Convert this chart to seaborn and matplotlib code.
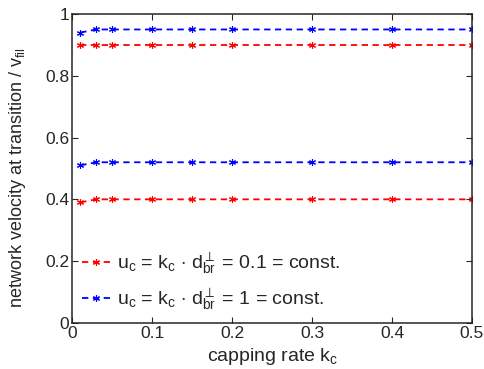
import numpy as np
import pandas as pd
import seaborn as sns
import matplotlib
matplotlib.use("Agg")
import matplotlib.pyplot as plt
from matplotlib.ticker import FormatStrFormatter

# data #######################################################################
kc = [0.01, 0.03, 0.05, 0.1, 0.15, 0.2, 0.3, 0.4, 0.5]
red_low = [0.39, 0.40, 0.40, 0.40, 0.40, 0.40, 0.40, 0.40, 0.40]
red_high = [0.90, 0.90, 0.90, 0.90, 0.90, 0.90, 0.90, 0.90, 0.90]
blue_low = [0.51, 0.52, 0.52, 0.52, 0.52, 0.52, 0.52, 0.52, 0.52]
blue_high = [0.94, 0.95, 0.95, 0.95, 0.95, 0.95, 0.95, 0.95, 0.95]
labels = [r"u$_c$ = k$_c$ $\cdot$ d$_{br}^{\perp}$ = 0.1 = const.",
          r"u$_c$ = k$_c$ $\cdot$ d$_{br}^{\perp}$ = 1 = const."]
colors = ["#ff0000", "#0000ff"]

df = pd.concat([
    pd.DataFrame({"kc": kc, "v": red_low, "series": labels[0], "branch": "low"}),
    pd.DataFrame({"kc": kc, "v": red_high, "series": labels[0], "branch": "high"}),
    pd.DataFrame({"kc": kc, "v": blue_low, "series": labels[1], "branch": "low"}),
    pd.DataFrame({"kc": kc, "v": blue_high, "series": labels[1], "branch": "high"}),
])

sns.set_style("ticks")
plt.rcParams["font.family"] = ["Liberation Sans", "DejaVu Sans"]
plt.rcParams["mathtext.fontset"] = "custom"
plt.rcParams["mathtext.rm"] = "Liberation Sans"
plt.rcParams["mathtext.it"] = "Liberation Sans"
plt.rcParams["mathtext.default"] = "rm"

fig = plt.figure(figsize=(4.85, 3.69), dpi=100)
ax = fig.add_axes([0.149, 0.125, 0.824, 0.837])

asterisk = (6, 2, 0)
dash = (0, (3.5, 2.5))
sns.lineplot(data=df, x="kc", y="v", hue="series", units="branch", estimator=None,
             palette=colors, linewidth=1.3, ax=ax, legend=False)
for line in ax.lines:
    line.set_linestyle(dash)
    line.set_marker(asterisk)
    line.set_markersize(5)
    line.set_markeredgewidth(0.8)
    line.set_markeredgecolor(line.get_color())

ax.set_xlim(0, 0.5)
ax.set_ylim(0, 1)
ax.set_xticks([0, 0.1, 0.2, 0.3, 0.4, 0.5])
ax.set_yticks([0, 0.2, 0.4, 0.6, 0.8, 1])
ax.xaxis.set_major_formatter(FormatStrFormatter("%g"))
ax.yaxis.set_major_formatter(FormatStrFormatter("%g"))
ax.tick_params(direction="in", top=True, right=True, labelsize=12.5, length=4,
               width=0.8, pad=2)
for s in ax.spines.values():
    s.set_linewidth(1.1)
    s.set_visible(True)

ax.set_xlabel(r"capping rate k$_c$", fontsize=14)
ax.xaxis.set_label_coords(0.5, -0.075)
ax.set_ylabel(r"network velocity at transition / v$_{fil}$", fontsize=13)
ax.yaxis.set_label_coords(-0.112, 0.47)

handles = [plt.Line2D([0, 0.5, 1], [0, 0, 0], color=c, linestyle=dash, linewidth=1.3,
                      marker=asterisk, markersize=5, markeredgewidth=0.8,
                      markevery=[1])
           for c in colors]
ax.legend(handles, labels, loc="lower left", bbox_to_anchor=(-0.02, -0.02),
          frameon=False, fontsize=14, handlelength=1.5, handletextpad=0.3,
          labelspacing=0.5)

fig.savefig("out.png", dpi=100)
